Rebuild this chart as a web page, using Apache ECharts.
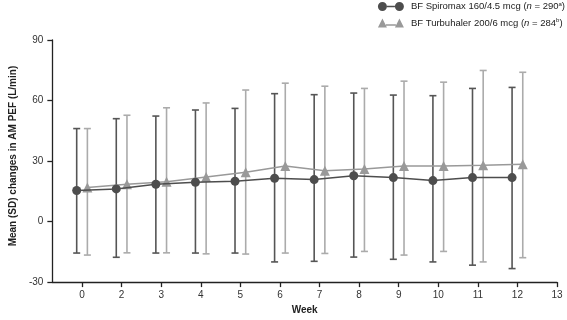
<!DOCTYPE html>
<html>
<head>
<meta charset="utf-8">
<script src="https://cdn.jsdelivr.net/npm/echarts@6/dist/echarts.min.js"></script>
<style>html,body{margin:0;padding:0;background:#fff}#c{width:567px;height:320px}</style>
</head>
<body>
<div id="c"></div>
<script>
// ---- data ----
var weekLabels = ['0','2','3','4','5','6','7','8','9','10','11','12','13'];
var spiroMean = [15.4, 16.2, 18.5, 19.5, 20.0, 21.5, 20.8, 22.7, 21.8, 20.3, 21.8, 21.8];
var spiroHigh = [46.1, 51.0, 52.3, 55.3, 56.1, 63.4, 62.9, 63.7, 62.7, 62.4, 66.0, 66.5];
var spiroLow  = [-15.6, -17.7, -15.6, -15.6, -15.6, -20.0, -19.7, -17.6, -18.7, -20.0, -21.6, -23.3];
var turboMean = [16.9, 18.5, 19.7, 22.1, 24.5, 27.5, 25.2, 26.0, 27.6, 27.6, 27.9, 28.4];
var turboHigh = [46.1, 52.7, 56.4, 58.8, 65.2, 68.6, 67.1, 66.0, 69.6, 69.1, 74.9, 74.0];
var turboLow  = [-16.6, -15.5, -15.5, -16.0, -16.1, -15.6, -15.8, -14.8, -16.6, -14.8, -20.0, -17.9];
var yTicks = [-30, 0, 30, 60, 90];

var DARK = '#4d4d4d';
var OFF = 0.135; // horizontal dodge in week units

function pts(mean, off){ return mean.map(function(v,i){ return [i+off, v]; }); }
function bars(lo, hi, off){ return lo.map(function(v,i){ return [i+off, v, hi[i]]; }); }

function errRender(color){
  return function(params, api){
    var x = api.value(0);
    var lo = api.coord([x, api.value(1)]);
    var hi = api.coord([x, api.value(2)]);
    var w = 3.5;
    var st = {stroke: color, lineWidth: 1.6};
    return {type:'group', children:[
      {type:'line', shape:{x1:lo[0],y1:lo[1],x2:hi[0],y2:hi[1]}, style:st},
      {type:'line', shape:{x1:lo[0]-w,y1:lo[1],x2:lo[0]+w,y2:lo[1]}, style:st},
      {type:'line', shape:{x1:hi[0]-w,y1:hi[1],x2:hi[0]+w,y2:hi[1]}, style:st}
    ]};
  };
}

var iconCircle = 'path://M0,4.5a4.5,4.5 0 1,0 9,0a4.5,4.5 0 1,0 -9,0Z M17,4.5a4.5,4.5 0 1,0 9,0a4.5,4.5 0 1,0 -9,0Z M9,3.75H17V5.25H9Z';
var iconTri = 'path://M0,9L4.5,0L9,9Z M17,9L21.5,0L26,9Z M8,5.75H18V7.25H8Z';

var chart = echarts.init(document.getElementById('c'), null, {renderer:'canvas'});
chart.setOption({
  animation:false,
  backgroundColor:'#fff',
  textStyle:{fontFamily:'Liberation Sans'},
  grid:{left:46, right:10, top:40, bottom:35, containLabel:false},
  legend:{
    right:2, top:1, padding:0, orient:'vertical', itemWidth:26, itemHeight:9, itemGap:6,
    data:[
      {name:'BF Spiromax 160/4.5 mcg', icon:iconCircle},
      {name:'BF Turbuhaler 200/6 mcg', icon:iconTri}
    ],
    formatter:function(name){
      if(name.indexOf('Spiromax')>=0) return '{t|'+name+' (}{i|n}{t| = 290}{s|a}{t|)}';
      return '{t|'+name+' (}{i|n}{t| = 284}{s|b}{t|)}';
    },
    textStyle:{fontFamily:'Liberation Sans', fontSize:9.5, color:'#222', padding:[0,0,0,2], rich:{
      t:{fontFamily:'Liberation Sans', fontSize:9.5, color:'#222'},
      i:{fontFamily:'Liberation Sans', fontSize:9.5, color:'#222', fontStyle:'italic'},
      s:{fontFamily:'Liberation Sans', fontSize:6, color:'#222', verticalAlign:'top', padding:[0,0,5,0]}
    }}
  },
  xAxis:{
    type:'value', min:-0.75, max:12,
    name:'Week', nameLocation:'middle', nameGap:21,
    nameTextStyle:{fontFamily:'Liberation Sans', fontSize:10, fontWeight:'bold', color:'#222'},
    axisLine:{show:true, onZero:false, lineStyle:{color:'#222', width:1.3}},
    axisTick:{show:true, length:5, lineStyle:{color:'#222', width:1.3}, customValues:weekLabels.map(function(_,i){return i;})},
    axisLabel:{fontFamily:'Liberation Sans', fontSize:10, color:'#333', margin:8,
      customValues:weekLabels.map(function(_,i){return i;}),
      formatter:function(v){ return weekLabels[Math.round(v)]; }},
    splitLine:{show:false}
  },
  yAxis:{
    type:'value', min:-30, max:90, interval:30,
    name:'Mean (SD) changes in AM PEF (L/min)', nameLocation:'middle', nameGap:34,
    nameTextStyle:{fontFamily:'Liberation Sans', fontSize:10, fontWeight:'bold', color:'#222', padding:[0,0,0,10]},
    axisLine:{show:true, onZero:false, lineStyle:{color:'#222', width:1.3}},
    axisTick:{show:true, length:5, lineStyle:{color:'#222', width:1.3}},
    axisLabel:{fontFamily:'Liberation Sans', fontSize:10, color:'#333', margin:9,
      customValues:yTicks},
    splitLine:{show:false}
  },
  series:[
    {type:'custom', name:'errS', renderItem:errRender('#555'), data:bars(spiroLow, spiroHigh, -OFF), z:1, silent:true, encode:{x:0,y:[1,2]}},
    {type:'custom', name:'errT', renderItem:errRender('#ababab'), data:bars(turboLow, turboHigh, OFF), z:1, silent:true, encode:{x:0,y:[1,2]}},
    {type:'line', name:'BF Turbuhaler 200/6 mcg', data:pts(turboMean, OFF), symbol:'triangle', symbolSize:10,
      itemStyle:{color:'#999'}, lineStyle:{color:'#999', width:1.5}, z:3},
    {type:'line', name:'BF Spiromax 160/4.5 mcg', data:pts(spiroMean, -OFF), symbol:'circle', symbolSize:9,
      itemStyle:{color:DARK}, lineStyle:{color:DARK, width:1.5}, z:4}
  ]
});
</script>
</body>
</html>
